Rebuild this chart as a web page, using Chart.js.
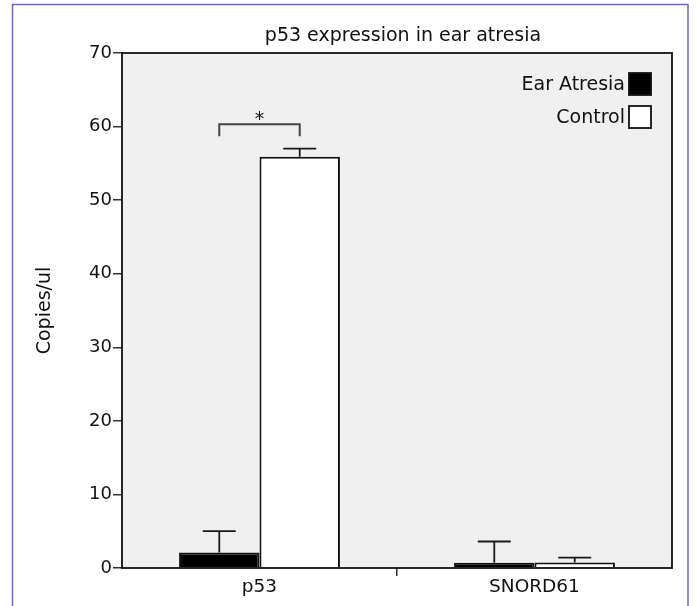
<!DOCTYPE html>
<html>
<head>
<meta charset="utf-8">
<script src="https://cdn.jsdelivr.net/npm/chart.js@4"></script>
<style>
  body { margin: 0; background: #fff; }
  canvas { display: block; }
</style>
</head>
<body>
<canvas id="chart" width="696" height="606"></canvas>
<script>
// Data
const categories = ["p53", "SNORD61"];
const seriesNames = ["Ear Atresia", "Control"];
const atresiaValues = [2.1, 0.72];
const atresiaErrTop = [5.0, 3.6];
const controlValues = [55.9, 0.75];
const controlErrTop = [57.0, 1.4];
const yTicks = [0, 10, 20, 30, 40, 50, 60, 70];
// significance bracket over p53 (y values in data units)
const sigBracketY = 60.3;
const sigLegY = 58.7;

const FONT = "DejaVu Sans";

// white page, purple frame and grey plot background
const backdrop = {
  id: 'backdrop',
  beforeDraw(chart) {
    const { ctx, chartArea: a } = chart;
    ctx.save();
    ctx.fillStyle = '#fff';
    ctx.fillRect(0, 0, chart.width, chart.height);
    ctx.strokeStyle = '#6f63c4';
    ctx.lineWidth = 1.5;
    ctx.beginPath();
    ctx.moveTo(12.5, chart.height);
    ctx.lineTo(12.5, 4.5);
    ctx.lineTo(688, 4.5);
    ctx.lineTo(688, chart.height);
    ctx.stroke();
    ctx.fillStyle = '#f0f0f0';
    ctx.fillRect(a.left, a.top, a.right - a.left, a.bottom - a.top);
    ctx.restore();
  }
};

// upper error bars, plot frame, title, legend and the * bracket
const extras = {
  id: 'extras',
  afterDatasetsDraw(chart) {
    const { ctx, chartArea: a, scales: { y } } = chart;
    ctx.save();

    // error bars (upper only)
    ctx.strokeStyle = '#1a1a1a';
    ctx.lineWidth = 1.8;
    chart.data.datasets.forEach((ds, di) => {
      chart.getDatasetMeta(di).data.forEach((bar, i) => {
        const top = y.getPixelForValue(ds.errTop[i]);
        const half = bar.width * 0.205;
        ctx.beginPath();
        ctx.moveTo(bar.x, bar.y);
        ctx.lineTo(bar.x, top);
        ctx.moveTo(bar.x - half, top);
        ctx.lineTo(bar.x + half, top);
        ctx.stroke();
      });
    });

    // frame around plot
    ctx.strokeStyle = '#111';
    ctx.lineWidth = 1.8;
    ctx.strokeRect(a.left, a.top, a.right - a.left, a.bottom - a.top);

    // significance bracket between the two p53 bars
    const b0 = chart.getDatasetMeta(0).data[0];
    const b1 = chart.getDatasetMeta(1).data[0];
    const by = y.getPixelForValue(sigBracketY);
    const ly = y.getPixelForValue(sigLegY);
    ctx.strokeStyle = '#444';
    ctx.lineWidth = 2;
    ctx.beginPath();
    ctx.moveTo(b0.x, ly);
    ctx.lineTo(b0.x, by);
    ctx.lineTo(b1.x, by);
    ctx.lineTo(b1.x, ly);
    ctx.stroke();
    ctx.fillStyle = '#111';
    ctx.font = `19px "${FONT}"`;
    ctx.textAlign = 'center';
    ctx.textBaseline = 'alphabetic';
    ctx.fillText('*', (b0.x + b1.x) / 2, by + 1);

    // title
    ctx.textBaseline = 'middle';
    ctx.fillText('p53 expression in ear atresia', (a.left + a.right) / 2 + 6, 36);

    // legend: text then box on the right
    const boxL = 629, boxS = 22;
    const rows = [73, 106];
    chart.data.datasets.forEach((ds, i) => {
      const top = rows[i];
      ctx.textAlign = 'right';
      ctx.fillStyle = '#111';
      ctx.fillText(ds.label, boxL - 4, top + boxS / 2 + 1);
      ctx.fillStyle = ds.backgroundColor;
      ctx.fillRect(boxL, top, boxS, boxS);
      ctx.strokeStyle = '#111';
      ctx.lineWidth = 1.8;
      ctx.strokeRect(boxL, top, boxS, boxS);
    });

    ctx.restore();
  }
};

new Chart(document.getElementById('chart'), {
  type: 'bar',
  data: {
    labels: categories,
    datasets: [
      {
        label: seriesNames[0],
        data: atresiaValues,
        errTop: atresiaErrTop,
        backgroundColor: '#000000',
        borderColor: '#111',
        borderWidth: 2
      },
      {
        label: seriesNames[1],
        data: controlValues,
        errTop: controlErrTop,
        backgroundColor: '#ffffff',
        borderColor: '#111',
        borderWidth: 2
      }
    ]
  },
  options: {
    responsive: false,
    animation: false,
    devicePixelRatio: 1,
    layout: { padding: { left: 0, top: 53, right: 24, bottom: 0 } },
    datasets: { bar: { categoryPercentage: 0.585, barPercentage: 1.0 } },
    plugins: {
      legend: { display: false },
      title: { display: false },
      tooltip: { enabled: false }
    },
    scales: {
      x: {
        offset: true,
        afterFit: s => { s.height = 38; },
        border: { display: false },
        grid: {
          drawOnChartArea: false,
          tickLength: 8,
          lineWidth: 1.5,
          color: ctx => (ctx.index === 1 ? '#333' : 'rgba(0,0,0,0)')
        },
        ticks: { color: '#111', padding: 0, font: { family: FONT, size: 18.5 } }
      },
      y: {
        min: yTicks[0],
        max: yTicks[yTicks.length - 1],
        afterFit: s => { s.width = 122; },
        afterBuildTicks: s => { s.ticks = yTicks.map(v => ({ value: v })); },
        border: { display: false },
        grid: { drawOnChartArea: false, tickLength: 9, lineWidth: 1.5, color: '#333' },
        ticks: { color: '#111', padding: 1, font: { family: FONT, size: 18 } },
        title: {
          display: true,
          text: 'Copies/ul',
          color: '#111',
          font: { family: FONT, size: 19 },
          padding: { top: 34, bottom: 0 }
        }
      }
    }
  },
  plugins: [backdrop, extras]
});
</script>
</body>
</html>
